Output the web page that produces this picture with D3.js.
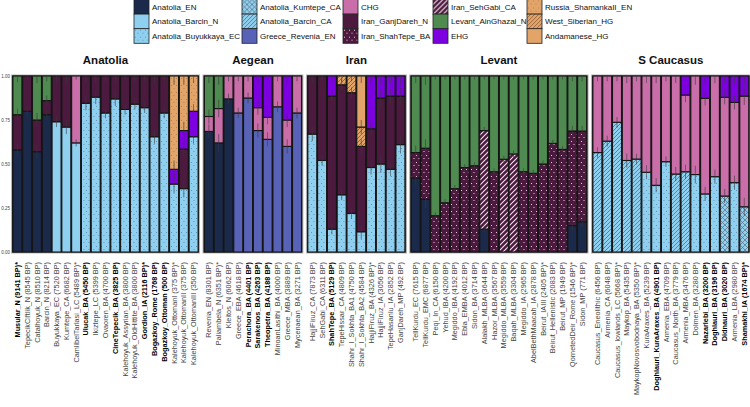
<!DOCTYPE html>
<html><head><meta charset="utf-8">
<script src="https://cdn.jsdelivr.net/npm/d3@7"></script>
<style>body{margin:0;background:#fff}svg{display:block;font-family:"Liberation Sans",Arial,sans-serif}</style>
</head><body><svg id="c" width="750" height="407"></svg>
<script>
// ---------- DATA ----------
const sourceCodes = ["AEN","BN","BEC","KCA","BCA","REV","CHG","GD","ST","SG","AG","EHG","SHA","WSHG","AND"];
const sourceNames = ["Anatolia_EN","Anatolia_Barcin_N","Anatolia_Buyukkaya_EC","Anatolia_Kumtepe_CA","Anatolia_Barcin_CA","Greece_Revenia_EN","CHG","Iran_GanjDareh_N","Iran_ShahTepe_BA","Iran_SehGabi_CA","Levant_AinGhazal_N","EHG","Russia_ShamankaII_EN","West_Siberian_HG","Andamanese_HG"];
const panelNames = ["Anatolia","Aegean","Iran","Levant","S Caucasus"];
const yTicks = [0,0.25,0.5,0.75,1];
const yTickLabels = ["0.00","0.25","0.50","0.75","1.00"];

const anatoliaLabels = ["Musular_N (9141 BP)*","TepecikCiftlik_N (8545 BP)","Catalhoyuk_N (8510 BP)","Barcin_N (8214 BP)","Buyukkaya_EC (7520 BP)","Kumtepe_CA (6682 BP)","CamlibelTarlasi_LC (5489 BP)*","Ulucak_BA (5450 BP)","Ikiztepe_LC (5399 BP)","Ovaoren_BA (4700 BP)","CineTepecik_BA (3825 BP)","Kalehoyuk_Assyrian_BA (3800 BP)","Kalehoyuk_OldHittite_BA (3800 BP)","Gordion_IA (2116 BP)*","Bogazkoy_Rome (1768 BP)","Bogazkoy_Ottoman (500 BP)","Kalehoyuk_OttomanI (375 BP)*","Kalehoyuk_OttomanII (375 BP)","Kalehoyuk_OttomanIII (350 BP)"];
const anatoliaBold = [1,0,0,0,0,0,0,1,0,0,1,0,0,1,1,1,0,0,0];
const anatoliaMix = [
 [["AEN",0.58],["GD",0.20],["AG",0.22]],
 [["AEN",0.80],["GD",0.20]],
 [["AEN",0.57],["GD",0.18],["AG",0.25]],
 [["AEN",0.78],["GD",0.08],["AG",0.14]],
 [["BN",0.74],["GD",0.26]],
 [["BN",0.71],["GD",0.29]],
 [["BN",0.62],["CHG",0.38]],
 [["BEC",0.845],["GD",0.155]],
 [["BEC",0.88],["GD",0.12]],
 [["BEC",0.79],["GD",0.21]],
 [["BEC",0.87],["GD",0.13]],
 [["BEC",0.81],["GD",0.19]],
 [["BEC",0.84],["GD",0.16]],
 [["BEC",0.82],["GD",0.18]],
 [["BEC",0.655],["GD",0.345]],
 [["BEC",0.79],["GD",0.21]],
 [["BEC",0.386],["EHG",0.084],["SHA",0.53]],
 [["BEC",0.36],["GD",0.225],["EHG",0.105],["SHA",0.31]],
 [["BEC",0.655],["EHG",0.145],["SHA",0.20]]
];
const anatoliaSE = [0.035,0.03,0.04,0.03,0.03,0.04,0.02,0.04,0.04,0.03,0.04,0.03,0.03,0.03,0.04,0.03,0.05,0.05,0.04];

const aegeanLabels = ["Revenia_EN (8301 BP)","Paliambela_N (6351 BP)*","Kleitos_N (6062 BP)","Greece_EBA (4618 BP)","Perachora_BA (4401 BP)","Sarakenos_BA (4263 BP)","Theopetra_BA (4188 BP)","MinoanLasithi_BA (4000 BP)","Greece_MBA (3889 BP)","Mycenaean_BA (3271 BP)"];
const aegeanBold = [0,0,0,0,1,1,1,0,0,0];
const aegeanMix = [
 [["AEN",0.685],["CHG",0.085],["AG",0.23]],
 [["AEN",0.62],["CHG",0.195],["AG",0.185]],
 [["AEN",0.87],["CHG",0.13]],
 [["REV",0.79],["CHG",0.21]],
 [["REV",0.875],["CHG",0.125]],
 [["REV",0.69],["CHG",0.13],["EHG",0.18]],
 [["REV",0.64],["CHG",0.125],["EHG",0.235]],
 [["REV",0.825],["CHG",0.175]],
 [["REV",0.60],["CHG",0.15],["EHG",0.25]],
 [["REV",0.79],["CHG",0.21]]
];
const aegeanSE = [0.04,0.05,0.03,0.03,0.03,0.04,0.04,0.03,0.04,0.03];

const iranLabels = ["HajjiFiruz_CA (7873 BP)","SehGabi_CA (6311 BP)","ShahTepe_BA (5129 BP)","TepeHissar_CA (4809 BP)","Shahr_I_Sokhta_BA1 (4750 BP)","Shahr_I_Sokhta_BA2 (4584 BP)","HajjiFiruz_BA (4326 BP)*","HajjiFiruz_IA (3056 BP)","TepeHasanlu_IA (2852 BP)","GanjDareh_MP (492 BP)"];
const iranBold = [0,0,1,0,0,0,0,0,0,0];
const iranMix = [
 [["BEC",0.67],["GD",0.33]],
 [["BEC",0.52],["GD",0.48]],
 [["BEC",0.13],["GD",0.756],["EHG",0.114]],
 [["BEC",0.325],["GD",0.625],["WSHG",0.05]],
 [["BEC",0.22],["GD",0.685],["WSHG",0.095]],
 [["BEC",0.115],["GD",0.485],["WSHG",0.11],["AND",0.29]],
 [["BEC",0.48],["GD",0.22],["EHG",0.30]],
 [["BEC",0.50],["GD",0.375],["EHG",0.125]],
 [["BEC",0.47],["GD",0.416],["EHG",0.114]],
 [["BEC",0.61],["GD",0.276],["EHG",0.114]]
];
const iranSE = [0.04,0.03,0.03,0.03,0.03,0.04,0.04,0.05,0.04,0.05];

const levantLabels = ["TellKurdu_EC (7615 BP)","TellKurdu_EMC (6877 BP)","Peqi_In_CA (6150 BP)","Yehud_IBA (4200 BP)","Megiddo_IBA (4192 BP)","Ebla_EMBA (4012 BP)","Sidon_BA (3714 BP)","Alalakh_MLBA (3644 BP)","Hazor_MLBA (3567 BP)","Megiddo_MLBA (3559 BP)","Baqah_MLBA (3304 BP)","Megiddo_IA (2965 BP)","AbelBethMaacah_IA (2878 BP)","Beirut_IAIII (2405 BP)*","Beirut_Hellenistic (2083 BP)","Beirut_MP (1949 BP)","QornetedDeir_Rome (1546 BP)*","Sidon_MP (771 BP)"];
const levantBold = [0,0,0,0,0,0,0,0,0,0,0,0,0,0,0,0,0,0];
const levantMix = [
 [["AEN",0.42],["ST",0.145],["AG",0.435]],
 [["AEN",0.30],["ST",0.29],["AG",0.41]],
 [["ST",0.206],["AG",0.794]],
 [["ST",0.28],["AG",0.72]],
 [["ST",0.36],["AG",0.64]],
 [["ST",0.48],["AG",0.52]],
 [["ST",0.49],["AG",0.51]],
 [["AEN",0.13],["SG",0.56],["AG",0.31]],
 [["ST",0.456],["AG",0.544]],
 [["SG",0.527],["AG",0.473]],
 [["SG",0.557],["AG",0.443]],
 [["ST",0.456],["AG",0.544]],
 [["ST",0.447],["AG",0.553]],
 [["ST",0.50],["AG",0.50]],
 [["ST",0.617],["AG",0.383]],
 [["ST",0.583],["AG",0.417]],
 [["AEN",0.15],["ST",0.5375],["AG",0.3125]],
 [["AEN",0.172],["ST",0.515],["AG",0.313]]
];
const levantSE = [0.04,0.05,0.02,0.02,0.02,0.02,0.02,0.02,0.02,0.02,0.02,0.02,0.02,0.02,0.02,0.02,0.03,0.03];

const caucasusLabels = ["Caucasus_Eneolithic (6456 BP)","Armenia_CA (6048 BP)","Caucasus_lowlands_LC (5668 BP)*","Maykop_BA (5435 BP)","MaykopNovosvobodnaya_BA (5350 BP)*","KuraAraxes_BA (5239 BP)","Doghlauri_KuraAraxes_BA (4901 BP)","Armenia_EBA (4709 BP)","Caucasus_North_BA (3779 BP)","Armenia_MBA (3476 BP)","Dolmen_BA (3280 BP)","Nazarlebi_BA (3200 BP)","Doghlauri_BA (3196 BP)","Didnauri_BA (3020 BP)","Armenia_LBA (2980 BP)","Shamakhi_IA (1674 BP)*"];
const caucasusBold = [0,0,0,0,0,0,1,0,0,0,0,1,1,1,0,1];
const caucasusMix = [
 [["BCA",0.565],["CHG",0.435]],
 [["BCA",0.63],["CHG",0.37]],
 [["BCA",0.737],["CHG",0.263]],
 [["BCA",0.52],["CHG",0.48]],
 [["BCA",0.528],["CHG",0.472]],
 [["BEC",0.453],["CHG",0.547]],
 [["BEC",0.379],["CHG",0.621]],
 [["BEC",0.513],["CHG",0.487]],
 [["BCA",0.443],["CHG",0.557]],
 [["BCA",0.456],["CHG",0.436],["EHG",0.108]],
 [["BEC",0.44],["CHG",0.56]],
 [["BEC",0.33],["CHG",0.543],["EHG",0.127]],
 [["BEC",0.428],["CHG",0.572]],
 [["KCA",0.318],["CHG",0.561],["EHG",0.121]],
 [["BEC",0.394],["CHG",0.456],["EHG",0.15]],
 [["KCA",0.257],["CHG",0.629],["EHG",0.114]]
];
const caucasusSE = [0.03,0.03,0.03,0.04,0.03,0.04,0.04,0.03,0.04,0.04,0.05,0.04,0.04,0.04,0.04,0.05];

// ---------- STYLE ----------
const C = {navy:"#1b2a4a", blue:"#8fd0f0", rev:"#5862b6", chg:"#c96ea8", gd:"#4c1a3e", green:"#4f8b50", ehg:"#7d00e0", orange:"#e2a468"};
const svg = d3.select("#c");
const defs = svg.append("defs");
function pattern(id, bg, w, h, draw){
  const p = defs.append("pattern").attr("id",id).attr("patternUnits","userSpaceOnUse").attr("width",w).attr("height",h);
  p.append("rect").attr("width",w).attr("height",h).attr("fill",bg);
  draw(p);
}
function dots(p, col, r){ p.append("rect").attr("x",1).attr("y",1).attr("width",r).attr("height",r).attr("fill",col); p.append("rect").attr("x",3.5).attr("y",4).attr("width",r).attr("height",r).attr("fill",col); }
function stripes(p, col, sw, s){ p.append("path").attr("d",`M0,${s}L${s},0M${-s/2},${s/2}L${s/2},${-s/2}M${s/2},${s*1.5}L${s*1.5},${s/2}`).attr("stroke",col).attr("stroke-width",sw); }
pattern("pBEC", C.blue, 5, 7, p=>dots(p,"#5b86a6",0.9));
pattern("pBCA", C.blue, 4, 4, p=>stripes(p,"#5a6a78",0.8,4));
pattern("pKCA", C.blue, 5, 5, p=>{stripes(p,"#5a6a78",0.7,5); p.append("path").attr("d","M0,0L5,5M-2.5,2.5L2.5,7.5M2.5,-2.5L7.5,2.5").attr("stroke","#5a6a78").attr("stroke-width",0.7);});
pattern("pST", C.gd, 5, 7, p=>dots(p,"#ecc8e0",1));
pattern("pSG", C.gd, 5, 5, p=>stripes(p,"#f2e4ee",1.1,5));
pattern("pSHA", C.orange, 5, 7, p=>dots(p,"#b0784a",0.9));
pattern("pWSHG", C.orange, 4, 4, p=>stripes(p,"#8a5a34",0.8,4));

const fillOf = {AEN:C.navy, BN:C.blue, BEC:"url(#pBEC)", KCA:"url(#pKCA)", BCA:"url(#pBCA)", REV:C.rev, CHG:C.chg, GD:C.gd, ST:"url(#pST)", SG:"url(#pSG)", AG:C.green, EHG:C.ehg, SHA:"url(#pSHA)", WSHG:"url(#pWSHG)", AND:C.orange};

// ---------- LEGEND ----------
const legX = [134,242,343,433,527];
sourceCodes.forEach((code,i)=>{
  const col = Math.floor(i/3), row = i%3;
  const g = svg.append("g").attr("transform",`translate(${legX[col]},${-0.5+row*14.6})`);
  g.append("rect").attr("width",15).attr("height",14.6).attr("fill",fillOf[code]).attr("stroke","#222").attr("stroke-width",0.8);
  g.append("text").attr("x",18).attr("y",7.6).attr("dy","0.35em").attr("font-size",8).attr("fill","#111").text(sourceNames[i]);
});

// ---------- PANELS ----------
const plotTop = 76, plotBottom = 252;
const y = d3.scaleLinear().domain([0,1]).range([plotBottom, plotTop]);
const bw = 9.79, gap = 5.5;
const panels = [
  {name:panelNames[0], labels:anatoliaLabels, bold:anatoliaBold, mix:anatoliaMix, se:anatoliaSE},
  {name:panelNames[1], labels:aegeanLabels, bold:aegeanBold, mix:aegeanMix, se:aegeanSE},
  {name:panelNames[2], labels:iranLabels, bold:iranBold, mix:iranMix, se:iranSE},
  {name:panelNames[3], labels:levantLabels, bold:levantBold, mix:levantMix, se:levantSE},
  {name:panelNames[4], labels:caucasusLabels, bold:caucasusBold, mix:caucasusMix, se:caucasusSE}
];
let x0 = 12.5;
panels.forEach((P,pi)=>{
  const x1 = x0 + P.labels.length*bw;
  const xs = d3.scaleBand().domain(P.labels).range([x0,x1]).padding(0);
  const g = svg.append("g");
  g.append("rect").attr("x",x0-1).attr("y",plotTop-1).attr("width",x1-x0+2).attr("height",plotBottom-plotTop+2).attr("fill","#222").attr("stroke","#b5b5b5").attr("stroke-width",1);
  g.append("text").attr("x",(x0+x1)/2).attr("y",64).attr("text-anchor","middle").attr("font-size",11.5).attr("font-weight","bold").attr("fill","#111").text(P.name);
  P.labels.forEach((lab,i)=>{
    let cum = 0;
    const bx = xs(lab), w = xs.bandwidth(), cx = bx + w/2;
    const segs = P.mix[i].map(([code,v])=>{ const s={code,y0:cum,y1:cum+v}; cum+=v; return s; });
    const tot = cum;
    segs.forEach(s=>{ s.y0/=tot; s.y1/=tot; });
    g.selectAll(null).data(segs).enter().append("rect")
      .attr("x",bx+0.4).attr("width",w-0.8)
      .attr("y",d=>y(d.y1)).attr("height",d=>y(d.y0)-y(d.y1))
      .attr("fill",d=>fillOf[d.code]).attr("stroke","#151515").attr("stroke-width",1.1);
    const se = P.se[i];
    segs.forEach(s=>{
      g.append("line").attr("x1",cx).attr("x2",cx)
        .attr("y1",y(Math.min(1,s.y1+se))).attr("y2",y(Math.max(0,s.y1-se)))
        .attr("stroke","#3a3a3a").attr("stroke-width",0.7).attr("opacity",0.85);
    });
    g.append("text").attr("transform",`translate(${cx},262) rotate(-90)`)
      .attr("text-anchor","end").attr("dy","0.35em").attr("font-size",7.3)
      .attr("font-weight",P.bold[i]?"bold":"normal").attr("fill",P.bold[i]?"#000":"#444").text(lab);
  });
  if(pi===0){
    yTicks.forEach((t,k)=>{
      svg.append("text").attr("x",10).attr("y",y(t)).attr("dy","0.35em").attr("text-anchor","end").attr("font-size",4.5).attr("fill","#444").text(yTickLabels[k]);
    });
  }
  x0 = x1 + gap;
});
</script></body></html>
